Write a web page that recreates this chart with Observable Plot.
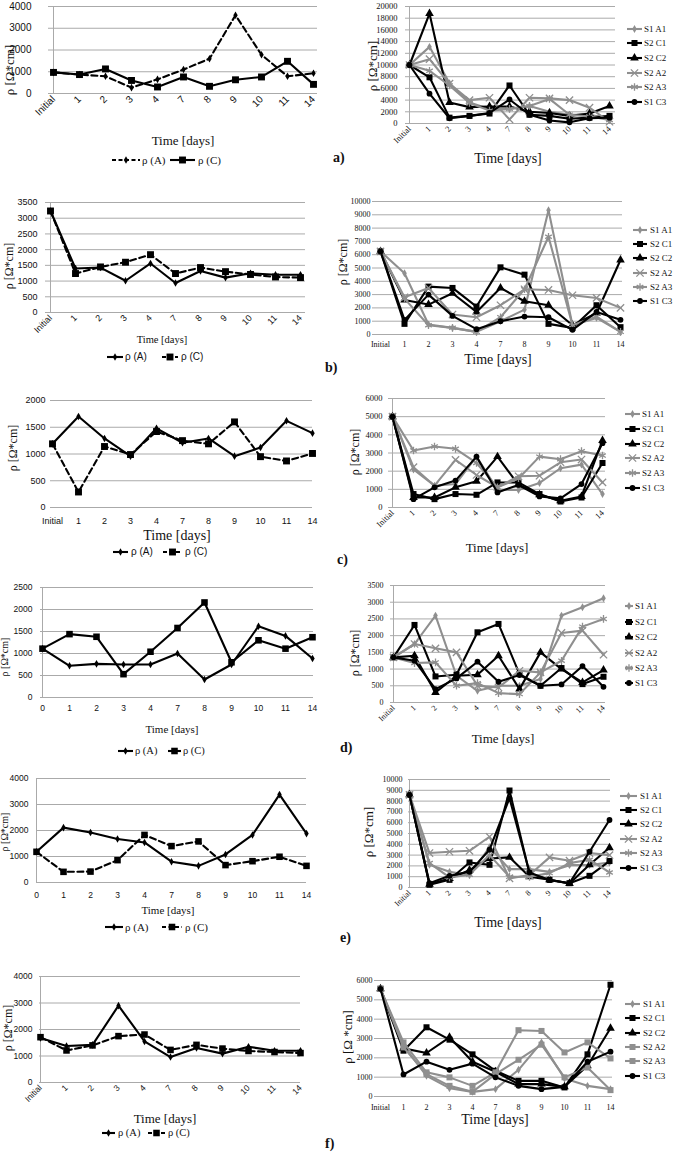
<!DOCTYPE html>
<html><head><meta charset="utf-8">
<script src="https://cdn.jsdelivr.net/npm/d3@7"></script>
<script src="https://cdn.jsdelivr.net/npm/@observablehq/plot@0.6"></script>
<style>
body{margin:0;background:#fff;}
#fig{position:relative;width:685px;height:1152px;overflow:hidden;background:#fff;}
.t{position:absolute;white-space:nowrap;color:#111;line-height:1;}
</style></head><body><div id="fig"></div>
<script>
// ---------- DATA ----------
const days = ["Initial","1","2","3","4","7","8","9","10","11","14"];
const daysZero = ["0","1","2","3","4","7","8","9","10","11","14"];
const seriesNames = ["S1 A1","S2 C1","S2 C2","S2 A2","S2 A3","S1 C3"];

// a)
const aA = [970,870,790,270,650,1100,1600,3600,1780,790,930];
const aC = [970,870,1130,600,300,760,330,630,760,1480,420];
const aS1A1 = [10000,13100,6900,3600,2500,2500,3000,2000,1500,1500,800];
const aS2C1 = [10000,7900,1000,1300,1700,6500,1500,1300,800,1000,1300];
const aS2C2 = [10000,18800,3600,2800,2900,2900,2000,1800,1300,1700,3000];
const aS2A2 = [10000,11000,6800,4000,4400,700,4400,4300,4000,2700,300];
const aS2A3 = [10000,9000,6500,3500,2200,2500,3000,4200,1500,1200,600];
const aS1C3 = [10000,5100,900,1300,1800,4100,1500,500,200,900,1000];

// b)
const bA = [3230,1400,1430,1010,1560,940,1320,1110,1250,1200,1200];
const bC = [3230,1240,1450,1600,1840,1240,1430,1300,1210,1130,1110];
const bS1A1 = [6250,4600,750,500,200,1000,1870,9350,700,1250,200];
const bS2C1 = [6250,800,3600,3500,2100,5050,4500,800,500,2200,550];
const bS2C2 = [6250,2600,2250,3100,1700,3500,2500,2200,700,1600,5600];
const bS2A2 = [6250,2800,3500,1500,1300,2200,3400,3350,2950,2750,2000];
const bS2A3 = [6250,2700,700,500,200,1300,3400,7350,700,1350,200];
const bS1C3 = [6250,1100,3000,1400,400,1000,1350,1300,350,1700,1100];

// c)
const cA = [1190,1700,1290,960,1480,1210,1290,960,1120,1620,1390];
const cC = [1190,290,1140,990,1420,1250,1190,1600,950,870,1010];
const cS1A1 = [5000,2090,1200,1290,2800,980,960,1350,2160,2360,740];
const cS2C1 = [5000,740,460,740,700,1380,1380,740,330,550,2450];
const cS2C2 = [5000,550,550,1110,1440,2800,1250,700,370,610,3690];
const cS2A2 = [5000,2220,1200,2620,1790,1110,1720,1750,2490,2640,1380];
const cS2A3 = [5000,3140,3360,3230,2450,1110,1600,2800,2660,3100,2860];
const cS1C3 = [5000,460,1110,1480,2800,830,1240,610,500,1290,3540];

// d)
const dA = [1110,720,765,750,750,1000,410,750,1620,1400,885];
const dC = [1110,1440,1380,530,1040,1580,2160,800,1300,1110,1370];
const dS1A1 = [1350,1750,2600,800,350,500,500,700,2600,2850,3120];
const dS2C1 = [1350,2320,780,830,2100,2350,850,500,1030,550,770];
const dS2C2 = [1350,1400,300,800,830,1400,400,1500,1000,600,970];
const dS2A2 = [1350,1750,1620,1500,500,450,950,900,2080,2150,1430];
const dS2A3 = [1350,1180,1200,500,580,280,250,900,1250,2270,2500];
const dS1C3 = [1350,1250,400,720,1220,620,820,500,540,1090,470];

// e)
const eA = [1180,2110,1920,1670,1540,800,640,1080,1830,3380,1880];
const eC = [1180,410,420,860,1830,1400,1580,670,820,990,640];
const eS1A1 = [8580,2100,1450,1150,3720,1700,1700,1450,2070,2070,2320];
const eS2C1 = [8580,250,710,2320,2100,8980,1300,710,400,1080,2450];
const eS2C2 = [8580,310,840,1610,2690,2790,990,710,370,2100,3680];
const eS2A2 = [8580,3190,3310,3400,4700,840,1150,2790,2480,3190,3000];
const eS2A3 = [8580,2260,930,1180,3000,990,990,1330,2260,2570,1390];
const eS1C3 = [8580,400,1080,1450,3500,8270,1390,680,400,3310,6250];

// f)
const fA = [1680,1380,1420,2900,1550,960,1300,1090,1350,1200,1200];
const fC = [1710,1210,1400,1750,1810,1230,1420,1280,1190,1150,1110];
const fS1A1 = [5570,2630,1070,430,240,380,1380,2800,930,550,380];
const fS2C1 = [5570,2370,3580,2940,2180,1330,810,810,470,2180,5780];
const fS2C2 = [5570,2490,2250,3060,1800,1280,640,640,500,1590,3530];
const fS2A2 = [5570,2800,1250,990,550,1250,3430,3390,2280,2800,1970];
const fS2A3 = [5570,2540,1160,550,240,1160,1900,2680,990,1500,330];
const fS1C3 = [5570,1140,1800,1380,1700,990,550,380,500,1800,2320];

// ---------- STYLES ----------
const GRAY = "#8f8f8f", BLACK = "#000";
const SERIF = "'Liberation Serif','Times New Roman',serif";
const SANS = "'Liberation Sans',Arial,sans-serif";
const rightStyles = [
  {color: GRAY, symbol: "diamond", r: 2.4},
  {color: BLACK, symbol: "square", r: 3.4},
  {color: BLACK, symbol: "triangle", r: 3.2},
  {color: GRAY, symbol: "times", r: 3.4},
  {color: GRAY, symbol: "asterisk", r: 3.6},
  {color: BLACK, symbol: "circle", r: 2.9}
];
const rightStylesF = rightStyles.map((s, i) => (i === 3 || i === 4) ? {color: GRAY, symbol: "square", r: 3.4} : s);
const symMap = {diamond: d3.symbolDiamond, square: d3.symbolSquare, triangle: d3.symbolTriangle,
  times: d3.symbolTimes, asterisk: d3.symbolAsterisk, circle: d3.symbolCircle};

const fig = document.getElementById("fig");

function isStroked(sym) { return sym === "times" || sym === "asterisk"; }

function drawPanel(p) {
  const ML = 60, MR = 15, MT = 10, MB = 50;
  const W = p.fx1 - p.fx0 + ML + MR, H = p.fy1 - p.fy0 + MT + MB;
  const ticks = d3.range(0, p.ymax + 1e-6, p.ystep);
  const marks = [Plot.ruleY(ticks, {stroke: "#aaaaaa", strokeWidth: 1})];
  if (p.vaxis) marks.push(Plot.ruleX([p.labels[0]], {stroke: "#aaaaaa", strokeWidth: 1}));
  marks.push(Plot.axisY(ticks, {tickSize: 0, tickPadding: p.yPad, fontSize: p.tickSize, fontFamily: p.tickFont,
    label: null, tickFormat: d => String(d)}));
  marks.push(Plot.axisX({tickSize: 0, tickPadding: p.xPad, tickRotate: p.rotate ? -45 : 0,
    fontSize: p.tickSize, fontFamily: p.tickFont, label: null}));
  p.series.forEach(s => {
    const d = s.values.map((v, i) => ({day: p.labels[i], v}));
    marks.push(Plot.line(d, {x: "day", y: "v", stroke: s.color, strokeWidth: s.width || 2.1,
      strokeDasharray: s.dash || "none"}));
    const st = isStroked(s.symbol);
    marks.push(Plot.dot(d, {x: "day", y: "v", symbol: s.symbol, r: s.r,
      fill: st ? "none" : s.color, stroke: st ? s.color : "none", strokeWidth: st ? 1.3 : 0}));
  });
  const svg = Plot.plot({
    width: W, height: H, marginLeft: ML, marginRight: MR, marginTop: MT, marginBottom: MB,
    x: {type: "point", domain: p.labels, padding: 0, range: [ML + p.px0 - p.fx0, ML + p.px1 - p.fx0]},
    y: {domain: [0, p.ymax]},
    style: {background: "transparent", overflow: "visible", color: "#111"},
    marks
  });
  svg.style.position = "absolute";
  svg.style.left = (p.fx0 - ML) + "px";
  svg.style.top = (p.fy0 - MT) + "px";
  svg.style.maxWidth = "none";
  fig.appendChild(svg);
}

function text(str, x, y, o = {}) {
  const el = document.createElement("div");
  el.className = "t";
  el.textContent = str;
  el.style.left = x + "px"; el.style.top = y + "px";
  el.style.fontSize = (o.size || 12) + "px";
  el.style.fontFamily = o.font || SERIF;
  if (o.bold) el.style.fontWeight = "bold";
  const a = o.anchor || "middle";
  const tx = a === "middle" ? "-50%" : a === "end" ? "-100%" : "0";
  el.style.transform = `translate(${tx},-50%)` + (o.rotate ? ` rotate(${o.rotate}deg)` : "");
  (o.parent || fig).appendChild(el);
  return el;
}

function swatch(x0, x1, y, s) {
  const ns = "http://www.w3.org/2000/svg";
  const w = x1 - x0;
  const svg = document.createElementNS(ns, "svg");
  svg.setAttribute("width", w); svg.setAttribute("height", 12);
  Object.assign(svg.style, {position: "absolute", left: x0 + "px", top: (y - 6) + "px", overflow: "visible"});
  const line = document.createElementNS(ns, "line");
  line.setAttribute("x1", 0); line.setAttribute("x2", w); line.setAttribute("y1", 6); line.setAttribute("y2", 6);
  line.setAttribute("stroke", s.color); line.setAttribute("stroke-width", s.width || 2.1);
  if (s.dash) line.setAttribute("stroke-dasharray", s.dash);
  svg.appendChild(line);
  const path = document.createElementNS(ns, "path");
  path.setAttribute("d", d3.symbol(symMap[s.symbol], Math.PI * s.r * s.r)());
  path.setAttribute("transform", `translate(${w / 2},6)`);
  const st = isStroked(s.symbol);
  path.setAttribute("fill", st ? "none" : s.color);
  path.setAttribute("stroke", st ? s.color : "none");
  path.setAttribute("stroke-width", st ? 1.3 : 0);
  svg.appendChild(path);
  fig.appendChild(svg);
}

function rightSeries(arrs, styles) {
  return arrs.map((values, i) => Object.assign({name: seriesNames[i], values}, styles[i]));
}
function rightLegend(ys, x0, x1, tx, styles, size) {
  seriesNames.forEach((n, i) => {
    swatch(x0, x1, ys[i], styles[i]);
    text(n, tx, ys[i], {anchor: "start", size: size || 9});
  });
}
function leftLegend(y, items, font, size) {
  items.forEach(it => {
    swatch(it.x0, it.x1, y, it.s);
    text(it.label, it.tx, y, {anchor: "start", size, font});
  });
}
const DASH = "6,3.5";
const legDash = "4,2.5";

// ---------- PANEL a ----------
const aStA = {color: BLACK, symbol: "diamond", r: 2.3, dash: DASH};
const aStC = {color: BLACK, symbol: "square", r: 3.9};
drawPanel({fx0: 48, fx1: 317, px0: 48, px1: 317, fy0: 6, fy1: 93, ymax: 4000, ystep: 1000,
  labels: days, rotate: true, tickFont: SANS, tickSize: 10, yPad: 17, xPad: 4, vaxis: true,
  series: [Object.assign({values: aA}, aStA), Object.assign({values: aC}, aStC)]});
text("ρ [Ω*cm]", 9, 70, {size: 13, rotate: -90});
text("Time [days]", 183, 140, {size: 13});
leftLegend(160, [
  {x0: 112, x1: 140, tx: 142, label: "ρ (A)", s: Object.assign({}, aStA, {dash: legDash})},
  {x0: 170, x1: 195, tx: 198, label: "ρ  (C)", s: aStC}], SERIF, 11);
text("a)", 333, 158, {anchor: "start", size: 14, bold: true});

drawPanel({fx0: 405, fx1: 615, px0: 405, px1: 613, fy0: 6, fy1: 123, ymax: 20000, ystep: 2000,
  labels: days, rotate: true, tickFont: SERIF, tickSize: 8.5, yPad: 8, xPad: 4, vaxis: true,
  series: rightSeries([aS1A1, aS2C1, aS2C2, aS2A2, aS2A3, aS1C3], rightStyles)});
text("ρ [Ω*cm]", 372, 66, {size: 13, rotate: -90});
text("Time [days]", 508, 159, {size: 14});
rightLegend([29, 43, 58, 73, 87, 102], 627, 642, 644, rightStyles);

// ---------- PANEL b ----------
const bStA = {color: BLACK, symbol: "diamond", r: 2.3};
const bStC = {color: BLACK, symbol: "square", r: 3.9, dash: DASH};
drawPanel({fx0: 45, fx1: 305, px0: 46, px1: 303, fy0: 202, fy1: 312, ymax: 3500, ystep: 500,
  labels: days, rotate: true, tickFont: SANS, tickSize: 9, yPad: 8, xPad: 4, vaxis: true,
  series: [Object.assign({values: bA}, bStA), Object.assign({values: bC}, bStC)]});
text("ρ [Ω*cm]", 9, 266, {size: 12, rotate: -90});
text("Time [days]", 162, 340, {size: 10.5});
leftLegend(357, [
  {x0: 107, x1: 123, tx: 125, label: "ρ (A)", s: bStA},
  {x0: 162, x1: 178, tx: 181, label: "ρ  (C)", s: Object.assign({}, bStC, {dash: legDash})}], SANS, 10);
text("b)", 325, 368, {anchor: "start", size: 14, bold: true});

drawPanel({fx0: 372, fx1: 622, px0: 378, px1: 621, fy0: 201, fy1: 334, ymax: 10000, ystep: 1000,
  labels: days, rotate: false, tickFont: SERIF, tickSize: 8, yPad: 2, xPad: 7, vaxis: false,
  series: rightSeries([bS1A1, bS2C1, bS2C2, bS2A2, bS2A3, bS1C3], rightStyles)});
text("ρ [Ω*cm]", 343, 262, {size: 12, rotate: -90});
text("Time [days]", 498, 360, {size: 14});
rightLegend([230, 244, 258, 273, 287, 301], 633, 647, 650, rightStyles);

// ---------- PANEL c ----------
const cStA = {color: BLACK, symbol: "diamond", r: 2.3};
const cStC = {color: BLACK, symbol: "square", r: 3.9, dash: DASH};
drawPanel({fx0: 50, fx1: 312, px0: 52, px1: 312, fy0: 400, fy1: 507, ymax: 2000, ystep: 500,
  labels: days, rotate: false, tickFont: SANS, tickSize: 9, yPad: 5, xPad: 10, vaxis: false,
  series: [Object.assign({values: cA}, cStA), Object.assign({values: cC}, cStC)]});
text("ρ [Ω*cm]", 13, 448, {size: 12, rotate: -90});
text("Time [days]", 177, 536, {size: 14});
leftLegend(552, [
  {x0: 113, x1: 128, tx: 131, label: "ρ (A)", s: cStA},
  {x0: 163, x1: 182, tx: 185, label: "ρ  (C)", s: Object.assign({}, cStC, {dash: legDash})}], SANS, 10);
text("c)", 337, 560, {anchor: "start", size: 14, bold: true});

drawPanel({fx0: 388, fx1: 605, px0: 388, px1: 605, fy0: 398, fy1: 507, ymax: 6000, ystep: 1000,
  labels: days, rotate: true, tickFont: SERIF, tickSize: 8.5, yPad: 6, xPad: 4, vaxis: true,
  series: rightSeries([cS1A1, cS2C1, cS2C2, cS2A2, cS2A3, cS1C3], rightStyles)});
text("ρ [Ω*cm]", 355, 452, {size: 12, rotate: -90});
text("Time [days]", 497, 547, {size: 13});
rightLegend([414, 429, 444, 458, 473, 488], 625, 640, 642, rightStyles);

// ---------- PANEL d ----------
const dStA = {color: BLACK, symbol: "diamond", r: 2.3};
const dStC = {color: BLACK, symbol: "square", r: 3.7};
drawPanel({fx0: 40, fx1: 313, px0: 40, px1: 313, fy0: 587, fy1: 697, ymax: 2500, ystep: 500,
  labels: daysZero, rotate: false, tickFont: SANS, tickSize: 8.5, yPad: 8, xPad: 7, vaxis: true,
  series: [Object.assign({values: dA}, dStA), Object.assign({values: dC}, dStC)]});
text("ρ [Ω*cm]", 5, 657, {size: 10, rotate: -90});
text("Time  [days]", 172, 729, {size: 11});
leftLegend(751, [
  {x0: 118, x1: 133, tx: 135, label: "ρ (A)", s: dStA},
  {x0: 168, x1: 181, tx: 183, label: "ρ  (C)", s: dStC}], SERIF, 10.5);

drawPanel({fx0: 390, fx1: 605, px0: 390, px1: 605, fy0: 585, fy1: 702, ymax: 3500, ystep: 500,
  labels: days, rotate: true, tickFont: SERIF, tickSize: 8, yPad: 7, xPad: 4, vaxis: true,
  series: rightSeries([dS1A1, dS2C1, dS2C2, dS2A2, dS2A3, dS1C3], rightStyles)});
text("ρ [Ω*cm]", 355, 653, {size: 12, rotate: -90});
text("Time [days]", 503, 738, {size: 13});
rightLegend([606, 622, 637, 653, 668, 683], 625, 633, 635, rightStyles);
text("d)", 340, 748, {anchor: "start", size: 14, bold: true});

// ---------- PANEL e ----------
const eStA = {color: BLACK, symbol: "diamond", r: 2.3};
const eStC = {color: BLACK, symbol: "square", r: 3.7, dash: DASH};
drawPanel({fx0: 36, fx1: 306, px0: 36, px1: 306, fy0: 778, fy1: 882, ymax: 4000, ystep: 1000,
  labels: daysZero, rotate: false, tickFont: SANS, tickSize: 8.5, yPad: 8, xPad: 9, vaxis: true,
  series: [Object.assign({values: eA}, eStA), Object.assign({values: eC}, eStC)]});
text("ρ [Ω*cm]", 5, 832, {size: 10, rotate: -90});
text("Time  [days]", 168, 910, {size: 11});
leftLegend(927, [
  {x0: 105, x1: 123, tx: 125, label: "ρ (A)", s: eStA},
  {x0: 162, x1: 182, tx: 185, label: "ρ  (C)", s: Object.assign({}, eStC, {dash: legDash})}], SERIF, 11);

drawPanel({fx0: 408, fx1: 610, px0: 408, px1: 610, fy0: 779, fy1: 887, ymax: 10000, ystep: 1000,
  labels: days, rotate: true, tickFont: SERIF, tickSize: 8, yPad: 6, xPad: 4, vaxis: true,
  series: rightSeries([eS1A1, eS2C1, eS2C2, eS2A2, eS2A3, eS1C3], rightStyles)});
text("ρ [Ω*cm]", 368, 832, {size: 13, rotate: -90});
text("Time [days]", 508, 923, {size: 14});
rightLegend([796, 810, 824, 839, 853, 868], 620, 637, 640, rightStyles);
text("e)", 340, 938, {anchor: "start", size: 14, bold: true});

// ---------- PANEL f ----------
const fStA = {color: BLACK, symbol: "diamond", r: 2.3};
const fStC = {color: BLACK, symbol: "square", r: 3.7, dash: DASH};
drawPanel({fx0: 39, fx1: 300, px0: 39, px1: 300, fy0: 976, fy1: 1082, ymax: 4000, ystep: 1000,
  labels: days, rotate: true, tickFont: SANS, tickSize: 8.5, yPad: 7, xPad: 4, vaxis: true,
  series: [Object.assign({values: fA}, fStA), Object.assign({values: fC}, fStC)]});
text("ρ [Ω*cm]", 8, 1028, {size: 12, rotate: -90});
text("Time [days]", 165, 1118, {size: 13});
leftLegend(1133, [
  {x0: 102, x1: 115, tx: 118, label: "ρ (A)", s: fStA},
  {x0: 148, x1: 165, tx: 168, label: "ρ  (C)", s: Object.assign({}, fStC, {dash: legDash})}], SERIF, 10.5);
text("f)", 325, 1144, {anchor: "start", size: 14, bold: true});

drawPanel({fx0: 374, fx1: 612, px0: 379, px1: 611, fy0: 980, fy1: 1096, ymax: 6000, ystep: 1000,
  labels: days, rotate: false, tickFont: SERIF, tickSize: 8, yPad: 2, xPad: 8, vaxis: false,
  series: rightSeries([fS1A1, fS2C1, fS2C2, fS2A2, fS2A3, fS1C3], rightStylesF)});
text("ρ [Ω *cm]", 347, 1037, {size: 13, rotate: -90});
text("Time [days]", 495, 1120, {size: 14});
rightLegend([1004, 1018, 1033, 1047, 1061, 1076], 625, 640, 643, rightStylesF);
</script></body></html>
